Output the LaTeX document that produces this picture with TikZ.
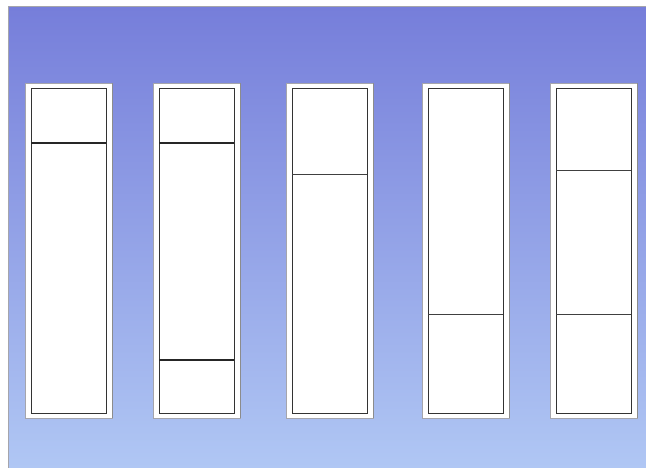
\documentclass[tikz,border=0pt]{standalone}
\usetikzlibrary{positioning}
\definecolor{bgtop}{RGB}{118,126,218}
\definecolor{bgmid}{RGB}{146,162,232}
\definecolor{bgbot}{RGB}{176,199,244}
\definecolor{rim}{RGB}{165,165,172}

\begin{document}
\begin{tikzpicture}[
    x=1pt, y=-1pt,
    tube/.style={draw=rim, fill=white, line width=0.8pt, minimum width=87pt, minimum height=335pt, inner sep=0pt, outer sep=0pt},
    inner/.style={draw=black!80, line width=0.9pt, minimum width=75pt, minimum height=325pt, inner sep=0pt, outer sep=0pt},
    shadowedge/.style={draw=black!45, line width=1pt},
    band/.style={draw=black!85, line width=1.2pt},
    thinband/.style={draw=black!75, line width=0.8pt}
]
\useasboundingbox (0,0) rectangle (646,468);

% background
\shade[top color=bgtop, middle color=bgmid, bottom color=bgbot] (8,7) rectangle (646,468);
\draw[rim, line width=1pt] (8,468) -- (8,7) -- (646,7);

% tubes
\foreach \cx [count=\i] in {68.5,196.5,329.5,465.5,593.5} {
    \node[tube] (tube\i) at (\cx,250.5) {};
    \draw[shadowedge] (tube\i.north east) -- (tube\i.south east);
    \node[inner] (in\i) at (\cx,250.5) {};
}

% layers
\draw[band] (in1.west |- 0,143) -- (in1.east |- 0,143);
\draw[band] (in2.west |- 0,143) -- (in2.east |- 0,143);
\draw[band] (in2.west |- 0,360) -- (in2.east |- 0,360);
\draw[thinband] (in3.west |- 0,174) -- (in3.east |- 0,174);
\draw[thinband] (in4.west |- 0,314) -- (in4.east |- 0,314);
\draw[thinband] (in5.west |- 0,170) -- (in5.east |- 0,170);
\draw[thinband] (in5.west |- 0,314) -- (in5.east |- 0,314);

\end{tikzpicture}
\end{document}
